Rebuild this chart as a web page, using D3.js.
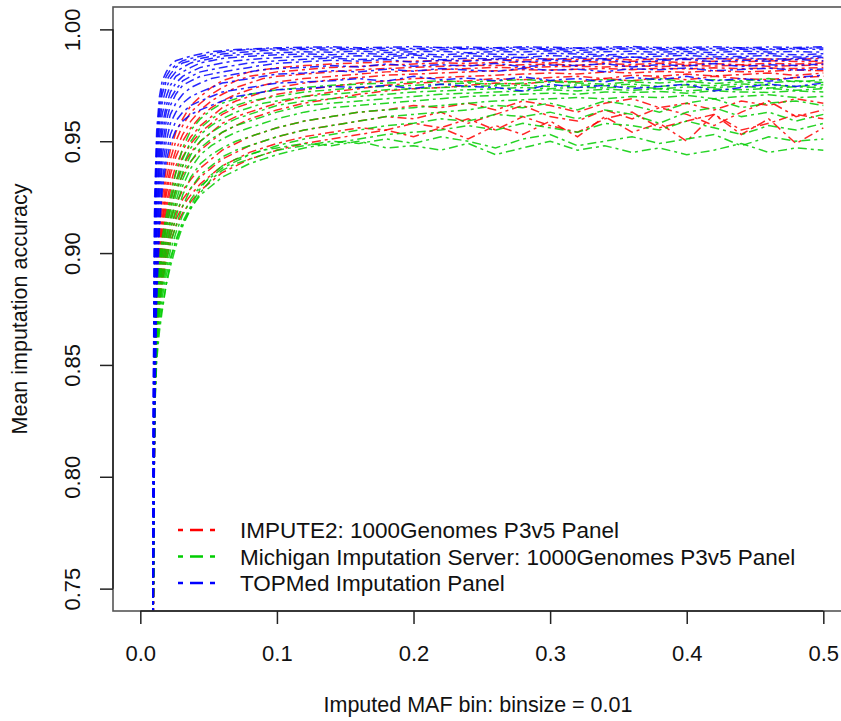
<!DOCTYPE html>
<html lang="en">
  <head>
    <meta charset="utf-8">
    <title>Mean imputation accuracy</title>
    <script src="https://d3js.org/d3.v7.min.js"></script>
    <style>
      body { margin: 0; background: #fff; }
      text { font-family: "Liberation Sans", Arial, sans-serif; fill: #111; }
    </style>
  </head>

  <body>
    <svg id="chart" width="841" height="721"></svg>

    <script type="text/javascript">
    // MAF bins (x) shared by every curve
    var mafBins = [0.0085,0.0095,0.0105,0.012,0.014,0.016,0.019,0.022,0.026,0.031,0.037,0.044,0.052,0.06,0.07,0.08,0.09,
      0.10,0.12,0.14,0.16,0.18,0.20,0.22,0.24,0.26,0.28,0.30,0.32,0.34,0.36,0.38,0.40,0.42,0.44,0.46,0.48,0.50];

    // IMPUTE2: 1000Genomes P3v5 Panel
    var impute2Acc = [
      [.600,.760,.860,.897,.913,.924,.938,.946,.954,.960,.966,.970,.974,.977,.979,.981,.982,.9828,.9838,.9845,.985,.9855,.9858,.986,.9862,.9865,.9863,.9867,.9865,.9868,.9864,.9868,.9866,.987,.9865,.9868,.9866,.987],
      [.600,.755,.855,.892,.908,.919,.933,.942,.950,.957,.963,.967,.971,.974,.977,.979,.980,.981,.982,.983,.9835,.984,.9845,.985,.9848,.9852,.9855,.985,.9857,.9853,.9858,.9855,.9852,.9858,.9855,.986,.9856,.9858],
      [.600,.750,.850,.888,.904,.915,.929,.938,.946,.953,.959,.964,.968,.971,.974,.976,.978,.979,.980,.981,.982,.9825,.983,.9835,.984,.9838,.9842,.9845,.984,.9846,.9843,.9848,.9844,.9847,.9842,.9848,.9845,.985],
      [.600,.750,.848,.885,.901,.912,.926,.935,.943,.950,.956,.961,.965,.968,.971,.973,.975,.9765,.978,.979,.980,.981,.9815,.982,.9825,.983,.9828,.9833,.9835,.9832,.9837,.9834,.9838,.9836,.984,.9835,.9838,.9842],
      [.600,.745,.845,.882,.898,.909,.922,.931,.939,.946,.952,.957,.961,.965,.968,.970,.972,.974,.976,.9775,.9785,.9795,.980,.9805,.981,.9815,.982,.9818,.9822,.9825,.982,.9826,.9823,.9828,.9824,.9827,.9825,.983],
      [.600,.745,.842,.879,.895,.906,.919,.928,.936,.943,.949,.954,.958,.962,.965,.967,.969,.971,.973,.9745,.976,.977,.978,.9785,.979,.9795,.980,.9805,.980,.981,.9805,.9812,.9808,.9815,.981,.9813,.9818,.9815],
      [.600,.740,.840,.876,.892,.902,.915,.924,.932,.939,.945,.950,.954,.958,.961,.963,.965,.967,.970,.972,.9735,.975,.976,.9765,.977,.978,.9775,.9785,.979,.978,.9795,.979,.980,.9792,.9798,.9805,.9795,.9805],
      [.600,.740,.838,.873,.889,.899,.912,.920,.928,.935,.941,.946,.950,.954,.957,.960,.962,.964,.967,.969,.971,.9725,.9735,.974,.975,.976,.9755,.977,.9765,.978,.977,.9785,.9775,.979,.978,.9775,.9785,.979],
      [.600,.740,.835,.870,.885,.895,.907,.915,.922,.928,.933,.938,.942,.946,.949,.952,.954,.956,.959,.961,.963,.964,.966,.965,.967,.964,.968,.966,.963,.967,.969,.965,.967,.964,.968,.966,.969,.967],
      [.600,.738,.832,.867,.882,.892,.903,.911,.918,.924,.929,.934,.938,.942,.945,.948,.950,.952,.955,.957,.959,.961,.960,.963,.958,.962,.966,.961,.959,.964,.960,.965,.962,.957,.963,.968,.961,.964],
      [.600,.736,.830,.864,.879,.889,.900,.908,.915,.921,.926,.931,.935,.939,.942,.945,.947,.949,.952,.954,.956,.955,.958,.956,.960,.955,.961,.957,.954,.960,.963,.956,.959,.962,.955,.958,.962,.960],
      [.600,.735,.828,.862,.877,.886,.897,.905,.912,.918,.923,.928,.932,.936,.939,.942,.944,.946,.949,.951,.953,.955,.952,.956,.951,.957,.953,.959,.952,.961,.954,.958,.950,.962,.953,.960,.949,.956]
    ];

    // Michigan Imputation Server: 1000Genomes P3v5 Panel
    var michiganAcc = [
      [.600,.755,.850,.885,.898,.907,.917,.925,.936,.947,.955,.960,.964,.967,.969,.971,.972,.973,.974,.975,.9755,.976,.9765,.977,.9765,.977,.9775,.977,.9765,.9775,.977,.978,.9765,.9775,.977,.978,.9765,.9775],
      [.600,.752,.848,.882,.895,.904,.914,.922,.932,.942,.950,.956,.960,.963,.966,.968,.969,.970,.972,.973,.974,.9745,.975,.9755,.976,.9755,.976,.9765,.976,.9755,.9765,.976,.9768,.9758,.9765,.976,.977,.9762],
      [.600,.750,.846,.879,.892,.901,.911,.919,.929,.939,.947,.953,.957,.960,.963,.965,.967,.968,.970,.971,.972,.973,.9735,.974,.9745,.9748,.975,.9745,.9752,.9748,.9755,.9745,.9752,.9748,.9756,.975,.9745,.9752],
      [.600,.750,.844,.876,.889,.898,.908,.916,.926,.936,.944,.950,.954,.957,.960,.962,.964,.966,.968,.969,.970,.971,.972,.9725,.973,.9735,.974,.9735,.9742,.9738,.9745,.9735,.9742,.974,.9746,.9738,.9743,.974],
      [.600,.748,.842,.873,.886,.895,.905,.913,.923,.933,.941,.947,.951,.954,.957,.959,.961,.963,.966,.967,.968,.969,.970,.971,.9715,.972,.9725,.973,.9725,.9732,.9728,.9735,.9725,.9733,.973,.9736,.9728,.9735],
      [.600,.748,.840,.870,.883,.892,.902,.910,.920,.930,.938,.944,.948,.951,.954,.956,.958,.960,.963,.965,.966,.967,.968,.969,.970,.9705,.971,.9715,.971,.972,.9718,.9722,.9715,.9725,.972,.9718,.9725,.972],
      [.600,.746,.838,.867,.880,.889,.899,.907,.916,.926,.934,.940,.944,.947,.950,.952,.954,.956,.959,.961,.963,.964,.965,.966,.967,.968,.9685,.969,.9695,.969,.970,.9695,.9705,.969,.970,.9708,.9695,.970],
      [.600,.745,.836,.864,.877,.886,.896,.904,.912,.921,.929,.935,.939,.943,.946,.948,.950,.952,.955,.957,.959,.961,.962,.963,.964,.966,.965,.967,.964,.968,.966,.963,.967,.969,.965,.967,.968,.966],
      [.600,.744,.834,.861,.874,.883,.893,.901,.909,.917,.924,.930,.934,.938,.941,.944,.946,.948,.951,.953,.955,.957,.958,.960,.959,.962,.961,.963,.960,.964,.962,.958,.963,.965,.961,.963,.959,.962],
      [.600,.743,.832,.858,.871,.880,.890,.898,.905,.913,.920,.926,.930,.934,.937,.940,.942,.944,.947,.949,.951,.953,.954,.955,.957,.955,.958,.956,.954,.958,.957,.955,.959,.956,.953,.957,.955,.958],
      [.600,.742,.830,.855,.868,.876,.886,.894,.903,.912,.920,.927,.933,.937,.940,.942,.944,.946,.948,.950,.949,.951,.949,.952,.950,.947,.951,.953,.948,.950,.952,.949,.951,.953,.948,.952,.950,.951],
      [.600,.740,.828,.852,.865,.874,.886,.896,.906,.914,.921,.929,.935,.939,.942,.944,.946,.947,.949,.948,.950,.947,.948,.946,.949,.944,.947,.950,.946,.948,.945,.947,.944,.946,.949,.945,.947,.946]
    ];

    // TOPMed Imputation Panel
    var topmedAcc = [
      [.600,.840,.925,.955,.970,.977,.981,.984,.986,.987,.988,.989,.990,.9905,.991,.9912,.9915,.9918,.992,.9922,.9918,.992,.9923,.9919,.9921,.9918,.9922,.992,.9917,.9921,.9923,.9919,.992,.9922,.9918,.9921,.9919,.9922],
      [.600,.830,.918,.950,.966,.974,.979,.982,.984,.986,.987,.988,.989,.990,.9905,.991,.9912,.9913,.9915,.9917,.9912,.9916,.9914,.9918,.9913,.9915,.9917,.9912,.9916,.9914,.9918,.9913,.9916,.9914,.9917,.9912,.9915,.9917],
      [.600,.820,.910,.944,.962,.971,.977,.980,.983,.985,.986,.987,.988,.989,.9895,.990,.9905,.9907,.991,.9908,.9912,.9906,.991,.9909,.9913,.9907,.991,.9911,.9906,.991,.9912,.9908,.991,.9907,.9911,.9909,.9912,.991],
      [.600,.810,.900,.938,.957,.967,.974,.978,.981,.983,.985,.986,.987,.988,.9885,.989,.9893,.9895,.990,.9898,.9903,.9897,.990,.9902,.9896,.9901,.9899,.9904,.9897,.990,.9902,.9898,.9901,.9896,.9903,.9899,.9901,.9898],
      [.600,.800,.890,.930,.951,.962,.970,.975,.979,.981,.983,.985,.986,.987,.9875,.988,.9883,.9886,.989,.9887,.9893,.9888,.9891,.9886,.9892,.9889,.9887,.9893,.989,.9886,.9891,.9888,.9893,.9887,.989,.9892,.9886,.9891],
      [.600,.790,.880,.922,.945,.957,.966,.972,.976,.979,.981,.983,.984,.985,.986,.9865,.987,.9873,.988,.9876,.9882,.9878,.9885,.9876,.9881,.9879,.9874,.9883,.9877,.9882,.9875,.988,.9884,.9877,.9879,.9883,.9876,.9881],
      [.600,.780,.870,.915,.940,.953,.963,.969,.973,.977,.979,.981,.982,.983,.984,.985,.9855,.986,.9866,.9872,.9865,.987,.9875,.9864,.9871,.9868,.9874,.9866,.9872,.9869,.9876,.9865,.9871,.9868,.9873,.9866,.987,.9874],
      [.600,.770,.860,.908,.934,.948,.959,.966,.971,.975,.977,.979,.980,.981,.982,.983,.984,.9848,.9855,.9862,.9858,.9865,.9853,.9862,.9857,.9866,.9855,.9861,.9858,.9864,.9852,.986,.9866,.9855,.9862,.9858,.9865,.986],
      [.600,.760,.850,.900,.928,.943,.955,.962,.967,.971,.974,.976,.978,.979,.980,.981,.982,.9825,.983,.9838,.9832,.9845,.9835,.9842,.9836,.9848,.9833,.9841,.9838,.9846,.9832,.9843,.9837,.9847,.9834,.9842,.9839,.9845],
      [.600,.750,.840,.892,.922,.938,.950,.958,.963,.967,.970,.972,.974,.976,.977,.978,.979,.980,.9805,.9815,.981,.9822,.9813,.9825,.9818,.9812,.9826,.9817,.9822,.9811,.9824,.9819,.9828,.9815,.9821,.9826,.9818,.9823],
      [.600,.740,.830,.885,.915,.932,.945,.953,.959,.963,.966,.968,.970,.972,.973,.974,.975,.976,.9765,.977,.978,.9768,.979,.9775,.9782,.977,.9788,.9772,.978,.9765,.9785,.9775,.979,.977,.978,.9768,.9785,.9795],
      [.600,.735,.825,.880,.910,.928,.941,.949,.955,.959,.962,.964,.966,.968,.970,.971,.972,.973,.9735,.9745,.974,.975,.9735,.9755,.9745,.974,.9725,.9755,.974,.975,.9735,.9745,.9755,.9725,.974,.9755,.9745,.976]
    ];

    var panelNames = ["IMPUTE2: 1000Genomes P3v5 Panel",
      "Michigan Imputation Server: 1000Genomes P3v5 Panel",
      "TOPMed Imputation Panel"];
    var panelColors = ["#ff0000", "#00cd00", "#0000ff"];
    var xTicks = [0, 0.1, 0.2, 0.3, 0.4, 0.5];
    var yTicks = [0.75, 0.80, 0.85, 0.90, 0.95, 1.00];

    var panels = [impute2Acc, michiganAcc, topmedAcc];

    // plot region (R style: limits padded by 4%)
    var plotLeft = 113, plotTop = 7, plotBottom = 611;
    var svg = d3.select("#chart");

    var x = d3.scaleLinear()
      .domain([-0.02, 0.52])
      .range([plotLeft, plotLeft + 0.54 * 1366]);

    var y = d3.scaleLinear()
      .domain([0.74, 1.01])
      .range([plotBottom, plotTop]);

    svg.append("clipPath")
      .attr("id", "plotclip")
      .append("rect")
      .attr("x", x(-0.02))
      .attr("y", y(1.01))
      .attr("width", x(0.52) - x(-0.02))
      .attr("height", y(0.74) - y(1.01));

    // the curves
    var line = d3.line()
      .x(function(d, i){ return x(mafBins[i]) })
      .y(function(d){ return y(d) });

    var curves = svg.append("g").attr("clip-path", "url(#plotclip)");
    panels.forEach(function(series, p){
      curves.selectAll(null)
        .data(series)
        .enter()
        .append("path")
        .attr("d", line)
        .attr("fill", "none")
        .attr("stroke", panelColors[p])
        .attr("stroke-width", 1.5)
        .attr("stroke-dasharray", "3,4,9,4")
        .attr("opacity", 0.85);
    });

    // box round the plot
    svg.append("rect")
      .attr("x", x(-0.02))
      .attr("y", y(1.01))
      .attr("width", x(0.52) - x(-0.02))
      .attr("height", y(0.74) - y(1.01))
      .attr("fill", "none")
      .attr("stroke", "#555")
      .attr("stroke-width", 1.6);

    // x axis
    var xAxis = svg.append("g")
      .attr("transform", "translate(0," + plotBottom + ")")
      .call(d3.axisBottom(x).tickValues(xTicks).tickSize(13).tickSizeOuter(0).tickFormat(d3.format(".1f")));
    xAxis.select(".domain").remove();
    xAxis.append("line")
      .attr("x1", x(xTicks[0])).attr("x2", x(xTicks[xTicks.length - 1]))
      .attr("stroke", "#222").attr("stroke-width", 1.5);
    xAxis.selectAll(".tick line").attr("stroke", "#222").attr("stroke-width", 1.5);
    xAxis.selectAll(".tick text")
      .attr("y", 50).attr("dy", 0)
      .style("font-size", "22px")
      .style("font-family", "Liberation Sans, Arial, sans-serif")
      .attr("fill", "#111");

    // y axis
    var yAxis = svg.append("g")
      .attr("transform", "translate(" + plotLeft + ",0)")
      .call(d3.axisLeft(y).tickValues(yTicks).tickSize(13).tickSizeOuter(0).tickFormat(d3.format(".2f")));
    yAxis.select(".domain").remove();
    yAxis.append("line")
      .attr("y1", y(yTicks[0])).attr("y2", y(yTicks[yTicks.length - 1]))
      .attr("stroke", "#222").attr("stroke-width", 1.5);
    yAxis.selectAll(".tick line").attr("stroke", "#222").attr("stroke-width", 1.5);
    yAxis.selectAll(".tick text")
      .attr("transform", "rotate(-90)")
      .attr("x", 0).attr("y", -33).attr("dy", 0)
      .attr("text-anchor", "middle")
      .style("font-size", "22px")
      .style("font-family", "Liberation Sans, Arial, sans-serif")
      .attr("fill", "#111");

    // axis titles
    svg.append("text")
      .attr("x", 478)
      .attr("y", 712)
      .attr("text-anchor", "middle")
      .style("font-size", "21.5px")
      .text("Imputed MAF bin: binsize = 0.01");

    svg.append("text")
      .attr("transform", "translate(27," + (plotTop + plotBottom) / 2 + ") rotate(-90)")
      .attr("text-anchor", "middle")
      .style("font-size", "21.5px")
      .text("Mean imputation accuracy");

    // legend
    var legend = svg.append("g").attr("transform", "translate(178,530)");
    legend.selectAll("line")
      .data(panelNames)
      .enter()
      .append("line")
      .attr("x1", 0).attr("x2", 37)
      .attr("y1", function(d, i){ return i * 26.5 })
      .attr("y2", function(d, i){ return i * 26.5 })
      .attr("stroke", function(d, i){ return panelColors[i] })
      .attr("stroke-width", 2.5)
      .attr("stroke-dasharray", "5,7,13,7");
    legend.selectAll("text")
      .data(panelNames)
      .enter()
      .append("text")
      .attr("x", 62)
      .attr("y", function(d, i){ return i * 26.5 + 8 })
      .style("font-size", "22.5px")
      .text(function(d){ return d });
    </script>
  </body>
</html>
